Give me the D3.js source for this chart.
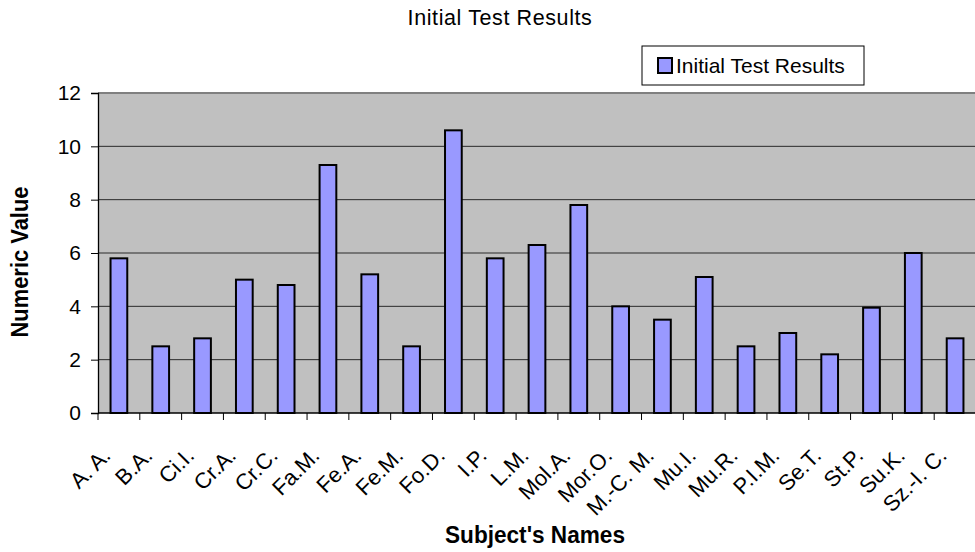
<!DOCTYPE html>
<html>
<head>
<meta charset="utf-8">
<script src="https://cdn.jsdelivr.net/npm/d3@7"></script>
<style>
    body { margin: 0; background: #fff; }
    text { font-family: Arial, "Liberation Sans", sans-serif; fill: #000; }
</style>
</head>
<body>
<div id="chart"></div>
<script>
// subjects and their initial test scores
var names = ["A. A.", "B.A.", "Ci.I.", "Cr.A.", "Cr.C.", "Fa.M.", "Fe.A.", "Fe.M.", "Fo.D.", "I.P.",
    "L.M.", "Mol.A.", "Mor.O.", "M.-C. M.", "Mu.I.", "Mu.R.", "P.I.M.", "Se.T.", "St.P.", "Su.K.", "Sz.-I. C."];
var scores = [5.8, 2.5, 2.8, 5.0, 4.8, 9.3, 5.2, 2.5, 10.6, 5.8,
    6.3, 7.8, 4.0, 3.5, 5.1, 2.5, 3.0, 2.2, 3.95, 6.0, 2.8];
var yTicks = [0, 2, 4, 6, 8, 10, 12];
var seriesName = "Initial Test Results";

var width = 975, height = 552;
var margin = { top: 93, right: -1, bottom: 139, left: 98 };

var svg = d3.select("#chart").append("svg")
    .attr("width", width)
    .attr("height", height);

var x = d3.scaleBand()
    .domain(names)
    .range([margin.left, width - margin.right])
    .paddingInner(0.6)
    .paddingOuter(0.3);
// same bands without padding, for tick marks between categories
var xCell = d3.scaleBand()
    .domain(names)
    .range([margin.left, width - margin.right]);
var y = d3.scaleLinear()
    .domain([0, 12])
    .range([height - margin.bottom, margin.top]);

// plot background
svg.append("rect")
    .attr("x", margin.left)
    .attr("y", y(12))
    .attr("width", width - margin.right - margin.left)
    .attr("height", y(0) - y(12))
    .attr("fill", "#c0c0c0");

// gridlines
svg.selectAll(".grid")
    .data(yTicks.slice(1, -1)).enter().append("line")
    .attr("class", "grid")
    .attr("x1", margin.left).attr("x2", width)
    .attr("y1", function(d) { return y(d); })
    .attr("y2", function(d) { return y(d); })
    .attr("stroke", "#2a2a2a")
    .attr("stroke-width", 1);
svg.append("line")
    .attr("x1", margin.left).attr("x2", width)
    .attr("y1", y(12)).attr("y2", y(12))
    .attr("stroke", "#808080")
    .attr("stroke-width", 2);

// bars
svg.selectAll(".bar")
    .data(scores).enter().append("rect")
    .attr("class", "bar")
    .attr("x", function(d, i) { return x(names[i]); })
    .attr("width", x.bandwidth())
    .attr("y", function(d) { return y(d); })
    .attr("height", function(d) { return y(0) - y(d); })
    .attr("fill", "#9999ff")
    .attr("stroke", "#000")
    .attr("stroke-width", 2);

// y axis
var yAxis = svg.append("g")
    .attr("transform", "translate(" + margin.left + ",0)")
    .call(d3.axisLeft(y).tickValues(yTicks).tickSize(7).tickPadding(10).tickFormat(d3.format("d")));
yAxis.select(".domain").attr("stroke", "#000").attr("stroke-width", 1.3);
yAxis.selectAll(".tick line").attr("stroke", "#000");
yAxis.selectAll("text")
    .style("font-size", "21px")
    .style("font-family", "Arial, 'Liberation Sans', sans-serif");

// x axis line and ticks at band edges
svg.append("line")
    .attr("x1", margin.left).attr("x2", width)
    .attr("y1", y(0)).attr("y2", y(0))
    .attr("stroke", "#000")
    .attr("stroke-width", 1.3);
svg.selectAll(".xtick")
    .data(names).enter().append("line")
    .attr("class", "xtick")
    .attr("x1", function(d) { return xCell(d); })
    .attr("x2", function(d) { return xCell(d); })
    .attr("y1", y(0)).attr("y2", y(0) + 7)
    .attr("stroke", "#000");

// rotated category labels
svg.selectAll(".xlabel")
    .data(names).enter().append("text")
    .attr("class", "xlabel")
    .attr("text-anchor", "end")
    .attr("transform", function(d) {
        return "translate(" + (x(d) + x.bandwidth() / 2 - 7) + "," + 457 + ") rotate(-45)";
    })
    .style("font-size", "22px")
    .text(function(d) { return d; });

// titles
svg.append("text")
    .attr("x", 500).attr("y", 25)
    .attr("text-anchor", "middle")
    .style("font-size", "21.5px")
    .style("letter-spacing", "0.6px")
    .text(seriesName);
svg.append("text")
    .attr("x", 535).attr("y", 543)
    .attr("text-anchor", "middle")
    .attr("textLength", 180)
    .attr("lengthAdjust", "spacingAndGlyphs")
    .style("font-size", "23px")
    .style("font-weight", "bold")
    .text("Subject's Names");
svg.append("text")
    .attr("transform", "translate(28,262) rotate(-90)")
    .attr("text-anchor", "middle")
    .attr("textLength", 151)
    .attr("lengthAdjust", "spacingAndGlyphs")
    .style("font-size", "23px")
    .style("font-weight", "bold")
    .text("Numeric Value");

// legend
var legend = svg.append("g").attr("transform", "translate(642,46)");
legend.append("rect")
    .attr("width", 222).attr("height", 39)
    .attr("fill", "#fff")
    .attr("stroke", "#000")
    .attr("stroke-width", 1);
legend.append("rect")
    .attr("x", 16).attr("y", 12)
    .attr("width", 14).attr("height", 15)
    .attr("fill", "#9999ff")
    .attr("stroke", "#000")
    .attr("stroke-width", 2);
legend.append("text")
    .attr("x", 34).attr("y", 27)
    .style("font-size", "21px")
    .text(seriesName);
</script>
</body>
</html>
